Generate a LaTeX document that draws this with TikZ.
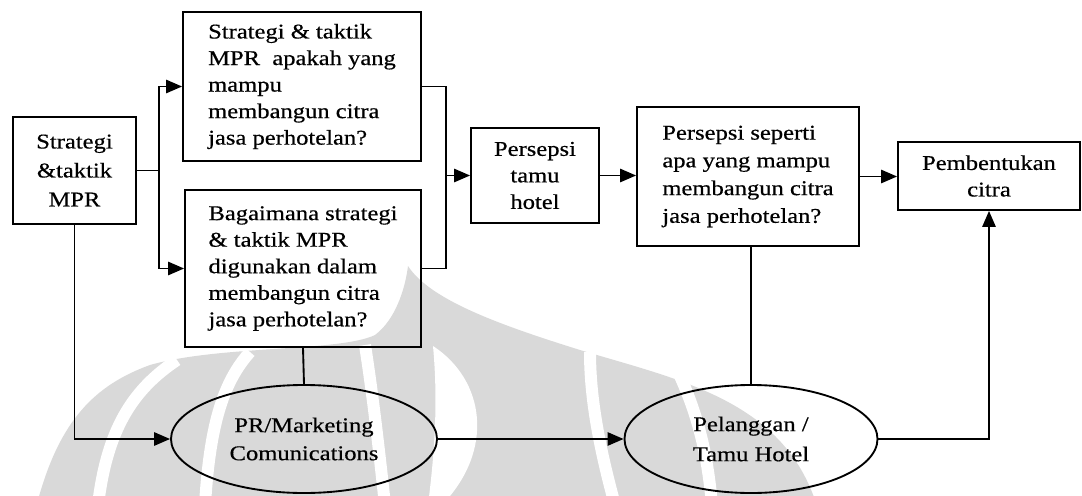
\documentclass[tikz,border=0pt]{standalone}
\usepackage{fontspec}
\setmainfont{Liberation Serif}[FakeStretch=1.17,FakeBold=0.5]
\usetikzlibrary{arrows.meta,shapes.geometric}

\begin{document}
\begin{tikzpicture}[x=0.75pt,y=-0.75pt,
  box/.style={draw,line width=1.4pt,align=center,inner sep=0pt},
  qbox/.style={box,align=left},
  oval/.style={draw,ellipse,line width=1.4pt,align=center,inner sep=0pt},
  link/.style={line width=1.4pt},
  arr/.style={link,-{Triangle[length=12pt,width=10pt]}},
  txt/.style={font=\fontsize{15.75}{19.9}\selectfont},
  wm/.style={fill=gray!30},
  wmgap/.style={draw=white,line width=9pt}
]
\useasboundingbox (0,0) rectangle (1082,496);

% faint emblem in the background
\fill[wm] (38,500) .. controls (60,420) and (95,385) .. (150,365)
  .. controls (220,345) and (340,352) .. (375,335)
  .. controls (395,320) and (405,290) .. (408,266)
  .. controls (430,300) and (500,325) .. (580,350)
  .. controls (680,380) and (780,400) .. (815,500) -- cycle;
\draw[wmgap] (98,505) .. controls (107,430) and (132,390) .. (177,360);
\draw[wmgap] (205,505) .. controls (210,420) and (225,380) .. (250,352);
\draw[wmgap] (385,505) .. controls (378,440) and (372,390) .. (365,345);
\fill[white] (433,346) .. controls (485,380) and (495,450) .. (442,505)
  -- (428,505) .. controls (435,450) and (438,400) .. (433,346) -- cycle;
\draw[wmgap] (590,352) .. controls (590,400) and (600,450) .. (615,505);
\draw[wmgap] (680,376) .. controls (700,420) and (708,460) .. (712,505);

% boxes
\node[box,minimum width=92.25pt,minimum height=80.25pt,
      font=\fontsize{15.75}{21.75}\selectfont] (A) at (74.5,170.5)
  {Strategi\\\&taktik\\MPR};
\node[qbox,txt,minimum width=178.5pt,minimum height=111.75pt] (B) at (302,86.5)
  {Strategi \& taktik\\MPR\ \ apakah yang\\mampu\\membangun citra\\jasa perhotelan?};
\node[qbox,txt,minimum width=177pt,minimum height=117.75pt] (C) at (303,268.5)
  {Bagaimana strategi\\\& taktik MPR\\digunakan dalam\\membangun citra\\jasa perhotelan?};
\node[box,txt,minimum width=96pt,minimum height=71.25pt] (D) at (535,175.5)
  {Persepsi\\tamu\\hotel};
\node[qbox,minimum width=166.5pt,minimum height=104.25pt,
      font=\fontsize{15.75}{20.8}\selectfont] (E) at (748,176.5)
  {Persepsi seperti\\apa yang mampu\\membangun citra\\jasa perhotelan?};
\node[box,txt,minimum width=136.5pt,minimum height=51pt] (F) at (989,176)
  {Pembentukan\\citra};

% ellipses
\node[oval,minimum width=199.5pt,minimum height=81pt,
      font=\fontsize{15.75}{21}\selectfont] (P) at (304,439)
  {PR/Marketing\\Comunications};
\node[oval,minimum width=189.75pt,minimum height=81pt,
      font=\fontsize{15.75}{22.5}\selectfont] (T) at (751,439)
  {Pelanggan /\\Tamu Hotel};

% connectors
\coordinate (fk) at (159,170.5);
\coordinate (mg) at (446,175.5);
\draw[link] (A.east) -- (fk);
\draw[arr] (fk) |- (B.west);
\draw[arr] (fk) |- (C.west);
\draw[link] (B.east) -| (mg);
\draw[link] (C.east) -| (mg);
\draw[arr] (mg) -- (D.west);
\draw[arr] (D.east) -- (D.east -| E.west);
\draw[arr] (E.east) -- (E.east -| F.west);
\draw[arr] (A.south) |- (P.west);
\draw[link] (C.south) -- (P.north);
\draw[arr] (P.east) -- (T.west);
\draw[link] (T.north) -- (T.north |- E.south);
\draw[arr] (T.east) -| (F.south);
\end{tikzpicture}
\end{document}
